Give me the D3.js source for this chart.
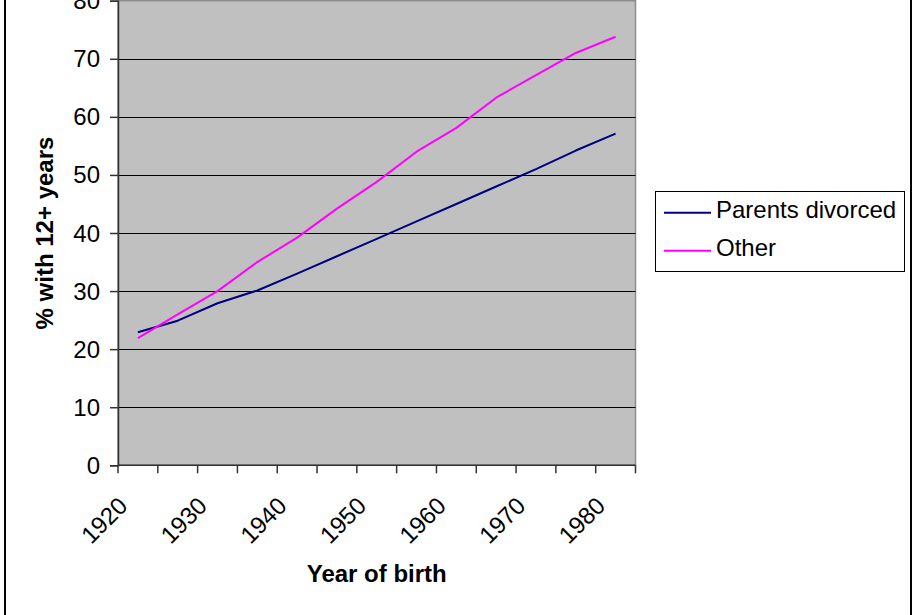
<!DOCTYPE html>
<html>
<head>
<meta charset="utf-8">
<script src="https://cdn.jsdelivr.net/npm/d3@7"></script>
<style>
  html, body { margin: 0; padding: 0; background: #ffffff; }
  svg { display: block; }
  text { font-family: "Liberation Sans", Arial, sans-serif; }
</style>
</head>
<body>
<div id="chart"></div>
<script>
// Birth cohorts (five-year groups) on the category axis
const cohorts = ["1920", "1925", "1930", "1935", "1940", "1945", "1950",
                 "1955", "1960", "1965", "1970", "1975", "1980"];
// Labelled cohorts on the x axis
const xTickLabels = ["1920", "1930", "1940", "1950", "1960", "1970", "1980"];
// Share with 12+ years of schooling, by family background
const parentsDivorced = [22.9, 24.9, 27.9, 30.1, 33.0, 36.0, 39.0, 42.0, 45.0, 48.0, 51.0, 54.2, 57.1];
const other           = [21.9, 26.0, 30.0, 35.0, 39.2, 44.2, 48.8, 54.0, 58.1, 63.3, 67.2, 71.0, 73.8];
const yTicks = [0, 10, 20, 30, 40, 50, 60, 70, 80];

const seriesNames = ["Parents divorced", "Other"];
const seriesColors = ["#000080", "#FF00FF"];
const seriesValues = [parentsDivorced, other];

const W = 913, H = 615;
const plot = { left: 118, right: 635.5, top: 0.7, bottom: 465.3 };

const svg = d3.select("#chart").append("svg")
  .attr("width", W).attr("height", H);

svg.append("rect").attr("width", W).attr("height", H).attr("fill", "#ffffff");

// chart-area frame
svg.append("rect")
  .attr("x", 5).attr("y", -10).attr("width", 906).attr("height", H + 20)
  .attr("fill", "none").attr("stroke", "#000").attr("stroke-width", 2);

const x = d3.scaleBand().domain(cohorts).range([plot.left, plot.right]).padding(0);
const y = d3.scaleLinear().domain([0, 80]).range([plot.bottom, plot.top]);

// plot area
svg.append("rect")
  .attr("x", plot.left).attr("y", plot.top)
  .attr("width", plot.right - plot.left).attr("height", plot.bottom - plot.top)
  .attr("fill", "#C0C0C0").attr("stroke", "#8c8c8c").attr("stroke-width", 1.5);

// horizontal gridlines
svg.append("g").selectAll("line")
  .data(yTicks.filter(v => v > 0 && v < 80))
  .join("line")
  .attr("x1", plot.left).attr("x2", plot.right)
  .attr("y1", d => Math.round(y(d)) + 0.5).attr("y2", d => Math.round(y(d)) + 0.5)
  .attr("stroke", "#000").attr("stroke-width", 1);

// y axis
const yAxis = d3.axisLeft(y).tickValues(yTicks).tickSize(8).tickPadding(10)
  .tickFormat(d3.format("d"));
const gy = svg.append("g").attr("transform", `translate(${plot.left},0)`).call(yAxis);
gy.select(".domain").attr("stroke", "#333").attr("stroke-width", 1.5);
gy.selectAll(".tick line").attr("stroke", "#333").attr("stroke-width", 1.5);
gy.selectAll(".tick text")
  .attr("font-size", 24).attr("fill", "#000").attr("dy", 8)
  .attr("font-family", "Liberation Sans, Arial, sans-serif");

// x axis: ticks sit between categories
const edges = cohorts.map(c => x(c)).concat([x(cohorts[cohorts.length - 1]) + x.bandwidth()]);
const gx = svg.append("g");
gx.append("line")
  .attr("x1", plot.left).attr("x2", plot.right)
  .attr("y1", plot.bottom).attr("y2", plot.bottom)
  .attr("stroke", "#333").attr("stroke-width", 1.5);
gx.selectAll("line.tick")
  .data(edges)
  .join("line").attr("class", "tick")
  .attr("x1", d => d).attr("x2", d => d)
  .attr("y1", plot.bottom).attr("y2", plot.bottom + 8)
  .attr("stroke", "#333").attr("stroke-width", 1.5);
gx.selectAll("text")
  .data(xTickLabels)
  .join("text")
  .attr("transform", d => `translate(${x(d) + x.bandwidth() / 2 - 9},${plot.bottom + 42}) rotate(-45)`)
  .attr("text-anchor", "end")
  .attr("font-size", 24)
  .attr("fill", "#000")
  .text(d => d);

// axis titles
svg.append("text")
  .attr("x", (plot.left + plot.right) / 2).attr("y", 581.5)
  .attr("text-anchor", "middle").attr("font-size", 24).attr("font-weight", "bold")
  .text("Year of birth");
svg.append("text")
  .attr("transform", `translate(53,${(plot.top + plot.bottom) / 2}) rotate(-90)`)
  .attr("text-anchor", "middle").attr("font-size", 24).attr("font-weight", "bold")
  .text("% with 12+ years");

// series lines
const line = d3.line()
  .x((d, i) => x(cohorts[i]) + x.bandwidth() / 2)
  .y(d => y(d));
seriesValues.forEach((vals, k) => {
  svg.append("path")
    .datum(vals)
    .attr("d", line)
    .attr("fill", "none")
    .attr("stroke", seriesColors[k])
    .attr("stroke-width", 2)
    .attr("stroke-linejoin", "round");
});

// legend
const lg = svg.append("g");
lg.append("rect")
  .attr("x", 655.5).attr("y", 191.5).attr("width", 249).attr("height", 80)
  .attr("fill", "#fff").attr("stroke", "#000").attr("stroke-width", 1);
seriesNames.forEach((name, k) => {
  const cy = 212.7 + k * 38;
  lg.append("line")
    .attr("x1", 664).attr("x2", 711).attr("y1", cy).attr("y2", cy)
    .attr("stroke", seriesColors[k]).attr("stroke-width", 2);
  lg.append("text")
    .attr("x", 716).attr("y", cy + 5.6)
    .attr("font-size", 24).attr("fill", "#000")
    .text(name);
});
</script>
</body>
</html>
